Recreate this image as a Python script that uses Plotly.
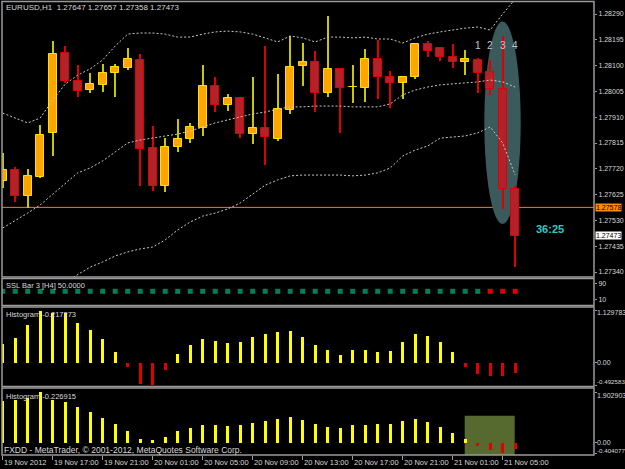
import plotly.graph_objects as go

# ---------------- data ----------------
bar_index = list(range(42))
time_tick_bars = [0, 4, 8, 12, 16, 20, 24, 28, 32, 36, 40]
time_tick_labels = ["19 Nov 2012", "19 Nov 17:00", "19 Nov 21:00", "20 Nov 01:00",
                    "20 Nov 05:00", "20 Nov 09:00", "20 Nov 13:00", "20 Nov 17:00",
                    "20 Nov 21:00", "21 Nov 01:00", "21 Nov 05:00"]

opens = [1.27675, 1.27716, 1.27620, 1.27690, 1.27852, 1.28146, 1.28043, 1.28010, 1.28029, 1.28073,
         1.28091, 1.28121, 1.27797, 1.27657, 1.27800, 1.27830, 1.27870, 1.28025, 1.27955, 1.27981,
         1.27848, 1.27870, 1.27830, 1.27937, 1.28099, 1.28113, 1.27999, 1.28088, 1.28021, 1.28018,
         1.28124, 1.28058, 1.28036, 1.28058, 1.28180, 1.28165, 1.28132, 1.28113, 1.28121, 1.28076,
         1.28014, 1.27647]
highs = [1.27778, 1.27727, 1.27719, 1.27881, 1.28191, 1.28172, 1.28102, 1.28073, 1.28106, 1.28106,
         1.28165, 1.28143, 1.27878, 1.27833, 1.27903, 1.27889, 1.28102, 1.28058, 1.27995, 1.27984,
         1.28058, 1.28172, 1.28069, 1.28209, 1.28183, 1.28154, 1.28283, 1.28091, 1.28102, 1.28161,
         1.28194, 1.28080, 1.28062, 1.28183, 1.28191, 1.28169, 1.28180, 1.28157, 1.28128, 1.28121,
         1.28209, 1.27657]
lows = [1.27649, 1.27598, 1.27576, 1.27686, 1.27767, 1.28036, 1.27984, 1.27999, 1.28003, 1.27984,
        1.28084, 1.27657, 1.27638, 1.27635, 1.27782, 1.27815, 1.27841, 1.27929, 1.27933, 1.27833,
        1.27811, 1.27734, 1.27822, 1.27922, 1.28025, 1.27929, 1.27984, 1.27852, 1.27962, 1.27966,
        1.27977, 1.27944, 1.27977, 1.28051, 1.28132, 1.28117, 1.28091, 1.28065, 1.27999, 1.27992,
        1.27572, 1.27358]
closes = [1.27716, 1.27620, 1.27694, 1.27845, 1.28143, 1.28043, 1.28007, 1.28032, 1.28073, 1.28095,
          1.28124, 1.27793, 1.27657, 1.27800, 1.27830, 1.27874, 1.28025, 1.27955, 1.27981, 1.27848,
          1.27870, 1.27837, 1.27940, 1.28095, 1.28113, 1.27999, 1.28088, 1.28018, 1.28022, 1.28124,
          1.28058, 1.28036, 1.28058, 1.28180, 1.28154, 1.28132, 1.28113, 1.28124, 1.28073, 1.28014,
          1.27647, 1.27473]

bb_upper = [1.27925, 1.27907, 1.27889, 1.27907, 1.27973, 1.28032, 1.28065, 1.28088, 1.28121, 1.28172,
            1.28216, 1.28220, 1.28220, 1.28216, 1.28205, 1.28205, 1.28216, 1.28224, 1.28227, 1.28224,
            1.28216, 1.28202, 1.28187, 1.28209, 1.28202, 1.28187, 1.28205, 1.28205, 1.28202, 1.28205,
            1.28198, 1.28198, 1.28183, 1.28202, 1.28216, 1.28224, 1.28231, 1.28238, 1.28242, 1.28231,
            1.28290, 1.28345]
bb_middle = [1.27502, 1.27528, 1.27557, 1.27587, 1.27627, 1.27668, 1.27705, 1.27723, 1.27749, 1.27782,
             1.27815, 1.27826, 1.27833, 1.27841, 1.27848, 1.27859, 1.27874, 1.27889, 1.27900, 1.27911,
             1.27922, 1.27929, 1.27940, 1.27948, 1.27948, 1.27951, 1.27951, 1.27951, 1.27948, 1.27948,
             1.27948, 1.27959, 1.27992, 1.28010, 1.28021, 1.28029, 1.28032, 1.28036, 1.28040, 1.28047,
             1.28040, 1.28021]
bb_lower = [1.27079, 1.27149, 1.27226, 1.27266, 1.27281, 1.27303, 1.27329, 1.27358, 1.27377, 1.27399,
            1.27414, 1.27425, 1.27432, 1.27458, 1.27495, 1.27524, 1.27546, 1.27557, 1.27572, 1.27594,
            1.27627, 1.27660, 1.27679, 1.27694, 1.27697, 1.27697, 1.27697, 1.27697, 1.27694, 1.27697,
            1.27705, 1.27723, 1.27767, 1.27789, 1.27804, 1.27833, 1.27837, 1.27841, 1.27852, 1.27874,
            1.27815, 1.27697]

ssl_signal = [1, 1, 1, 1, 1, 1, 1, 1, 1, 1, 1, 1, 1, 1, 1, 1, 1, 1, 1, 1, 1,
              1, 1, 1, 1, 1, 1, 1, 1, 1, 1, 1, 1, 1, 1, 1, 1, 1, 1, -1, -1, -1]
ssl_level = 50

hist1 = [0.40, 0.54, 0.83, 1.129783, 1.07, 1.09, 0.87, 0.70, 0.51, 0.24,
         -0.09, -0.47, -0.492583, -0.15, 0.19, 0.38, 0.51, 0.48, 0.43, 0.46,
         0.56, 0.62, 0.67, 0.69, 0.56, 0.38, 0.28, 0.17, 0.28, 0.28,
         0.24, 0.25, 0.46, 0.63, 0.59, 0.44, 0.24, -0.09, -0.25, -0.29,
         -0.29, -0.217273]
hist2 = [1.57, 1.61, 1.67, 1.902903, 1.63, 1.55, 1.35, 1.17, 0.94, 0.70,
         0.43, 0.13, 0.09, 0.23, 0.43, 0.56, 0.65, 0.65, 0.62, 0.65,
         0.76, 0.83, 0.89, 0.98, 0.86, 0.70, 0.58, 0.54, 0.65, 0.68,
         0.70, 0.72, 0.83, 0.89, 0.78, 0.58, 0.37, 0.13, -0.12, -0.26,
         -0.404077, -0.226915]

price_ticks = [1.28290, 1.28195, 1.28100, 1.28005, 1.27910, 1.27815, 1.27720,
               1.27625, 1.27530, 1.27435, 1.27340]
level_line = 1.27578
last_close = 1.27473
hist1_ticks = [1.129783, 0.0, -0.492583]
hist1_tick_text = ["1.129783", "0.00", "-0.492583"]
hist2_ticks = [1.902903, 0.0, -0.404077]
hist2_tick_text = ["1.902903", "0.00", "-0.404077"]
ssl_ticks = [90, 10]
title_text = "EURUSD,H1  1.27647 1.27657 1.27358 1.27473"
ssl_text = "SSL Bar 3 [H4] 50.0000"
hist1_text = "Histogram -0.217273"
hist2_text = "Histogram -0.226915"
footer_text = "FXDD - MetaTrader, \u00a9 2001-2012, MetaQuotes Software Corp."
timer_text = "36:25"
wave_labels = ["1", "2", "3", "4"]
wave_bars = [38, 39, 40, 41]

# ---------------- geometry ----------------
W, H = 625, 469
ML, MR, MT, MB = 2, 31, 2, 14
PW, PH = W - ML - MR, H - MT - MB


def py(ypx):
    return (H - MB - ypx) / PH


def pxp(xpx):
    return (xpx - ML) / PW


FONT = "Liberation Sans, Arial, sans-serif"
TXT = "#D8D8D8"
GRID = "#9A9A9A"

bull = [c >= o for o, c in zip(opens, closes)]
fig = go.Figure()

# wicks
fig.add_trace(go.Bar(
    x=bar_index, base=lows, y=[h - l for h, l in zip(highs, lows)], width=0.08,
    marker=dict(color=["#C8C800" if b else "#E00000" for b in bull], line=dict(width=0)),
    yaxis="y", hoverinfo="skip", showlegend=False))
# bodies
fig.add_trace(go.Bar(
    x=bar_index, base=[min(o, c) for o, c in zip(opens, closes)],
    y=[abs(c - o) for o, c in zip(opens, closes)], width=0.62,
    marker=dict(color=["#FFA500" if b else "#B22228" for b in bull],
                line=dict(color=["#FFE000" if b else "#E00000" for b in bull], width=1)),
    yaxis="y", hoverinfo="skip", showlegend=False))

# bollinger bands
for band in (bb_upper, bb_middle, bb_lower):
    fig.add_trace(go.Scatter(x=bar_index, y=band, mode="lines",
                             line=dict(color="#C8C8C8", width=1, dash="2px,2px"),
                             yaxis="y", hoverinfo="skip", showlegend=False))

# SSL squares
fig.add_trace(go.Scatter(
    x=bar_index, y=[ssl_level] * len(bar_index), mode="markers",
    marker=dict(symbol="square", size=5,
                color=["#00805A" if s > 0 else "#E00000" for s in ssl_signal],
                line=dict(width=0)),
    yaxis="y2", hoverinfo="skip", showlegend=False))

# histograms
fig.add_trace(go.Bar(x=bar_index, y=hist1, width=0.22,
                     marker=dict(color=["#FFFF00" if v >= 0 else "#E00000" for v in hist1],
                                 line=dict(width=0)),
                     yaxis="y3", hoverinfo="skip", showlegend=False))
fig.add_trace(go.Bar(x=bar_index, y=hist2, width=0.22,
                     marker=dict(color=["#FFFF00" if v >= 0 else "#E00000" for v in hist2],
                                 line=dict(width=0)),
                     yaxis="y4", hoverinfo="skip", showlegend=False))

# ---------------- layout ----------------
x0 = (ML - 2.7) / 12.5
x1 = x0 + PW / 12.5
d_main = [py(277), 1]
d_ssl = [py(305), py(279)]
d_h1 = [py(386), py(307)]
d_h2 = [0, py(388)]

main_range = [1.28290 - (277 - 14) / 27158.0, 1.28290 + (14 - MT) / 27158.0]
ssl_range = [10 - (305 - 299.3) * 5, 90 + (283.3 - 279) * 5]
s1 = 0.02173
h1_range = [-(386 - 362.7) * s1, (362.7 - 307) * s1]
s2 = 0.03776
h2_range = [-(455 - 442.7) * s2, (442.7 - 388) * s2]

yax_common = dict(side="right", anchor="x", showgrid=False, zeroline=False, showline=False,
                  ticks="outside", ticklen=2, tickcolor=GRID, automargin=False,
                  tickfont=dict(family=FONT, size=7, color=TXT), fixedrange=True)

fig.update_layout(
    width=W, height=H, template="none",
    paper_bgcolor="#000000", plot_bgcolor="#000000",
    margin=dict(l=ML, r=MR, t=MT, b=MB),
    barmode="overlay", bargap=0, showlegend=False,
    xaxis=dict(range=[x0, x1], anchor="y4", showgrid=False, zeroline=False, showline=False,
               tickvals=time_tick_bars, showticklabels=False, ticks="outside", ticklen=4,
               tickcolor=GRID, automargin=False, fixedrange=True),
    yaxis=dict(domain=d_main, range=main_range, tickvals=price_ticks,
               ticktext=["%.5f" % v for v in price_ticks], **yax_common),
    yaxis2=dict(domain=d_ssl, range=ssl_range, tickvals=ssl_ticks,
                ticktext=[str(v) for v in ssl_ticks], **yax_common),
    yaxis3=dict(domain=d_h1, range=h1_range, tickvals=hist1_ticks,
                showticklabels=False, **yax_common),
    yaxis4=dict(domain=d_h2, range=h2_range, tickvals=hist2_ticks,
                showticklabels=False, **yax_common),
)

shapes = []
# ellipse
shapes.append(dict(type="circle", xref="x", yref="y", x0=38.53, x1=41.44,
                   y0=1.27517, y1=1.28262, fillcolor="#3A5A5C", line=dict(width=0),
                   layer="below"))
# level line
shapes.append(dict(type="line", xref="paper", yref="y", x0=0, x1=1, y0=level_line, y1=level_line,
                   line=dict(color="#FF8000", width=1), layer="below"))
# olive box in lower pane
shapes.append(dict(type="rect", xref="x", yref="y4", x0=36.96, x1=40.96,
                   y0=h2_range[0], y1=(442.7 - 415.7) * s2, fillcolor="#56692F",
                   line=dict(width=0), layer="below"))
# pane borders
for top, bot in ((1.5, 277), (278.5, 305.5), (307, 386.5), (388, 455)):
    shapes.append(dict(type="rect", xref="paper", yref="paper", x0=0, x1=1,
                       y0=py(bot), y1=py(top), line=dict(color=GRID, width=1.5),
                       fillcolor="rgba(0,0,0,0)", layer="above"))
fig.update_layout(shapes=shapes)

ann = []


def txt(x, y, s, size=7.5, color=TXT, xref="paper", yref="paper", xanchor="left", **kw):
    ann.append(dict(x=x, y=y, xref=xref, yref=yref, text=s, showarrow=False,
                    xanchor=xanchor, yanchor="middle",
                    font=dict(family=FONT, size=size, color=color), **kw))


txt(pxp(4), py(8), title_text, size=8)
txt(pxp(4), py(285.5), ssl_text)
txt(pxp(4), py(314), hist1_text)
txt(pxp(4), py(396.5), hist2_text)
txt(pxp(2), py(450), footer_text, size=8.5)
for b, lab in zip(time_tick_bars, time_tick_labels):
    txt(b, py(462.5), lab, xref="x", xshift=-1)
for b, lab in zip(wave_bars, wave_labels):
    txt(b, 1.28173, lab, size=10, color="#C8C8C8", xref="x", yref="y", xanchor="center")
txt(43.8, 1.27497, "<b>%s</b>" % timer_text, size=11, color="#2EC8C8", xref="x", yref="y",
    xanchor="center")
# indicator-window scale labels (drawn inside the pane edges, as the terminal does)
for lab, ypix, fs in zip(hist1_tick_text, (312, 362.5, 381.5), (7, 7, 6.2)):
    txt(1, py(ypix), lab, size=fs, xshift=1)
for lab, ypix, fs in zip(hist2_tick_text, (395, 442.5, 450.5), (7, 7, 6.2)):
    txt(1, py(ypix), lab, size=fs, xshift=1)
# price boxes on the axis
txt(1, level_line, "%.5f" % level_line, size=7, color="#000000", yref="y", xshift=1,
    bgcolor="#FF8C00", borderpad=0)
txt(1, last_close, "%.5f" % last_close, size=7, color="#000000", yref="y", xshift=1,
    bgcolor="#FFFFFF", borderpad=0)
fig.update_layout(annotations=ann)

fig.write_html("out.html")
